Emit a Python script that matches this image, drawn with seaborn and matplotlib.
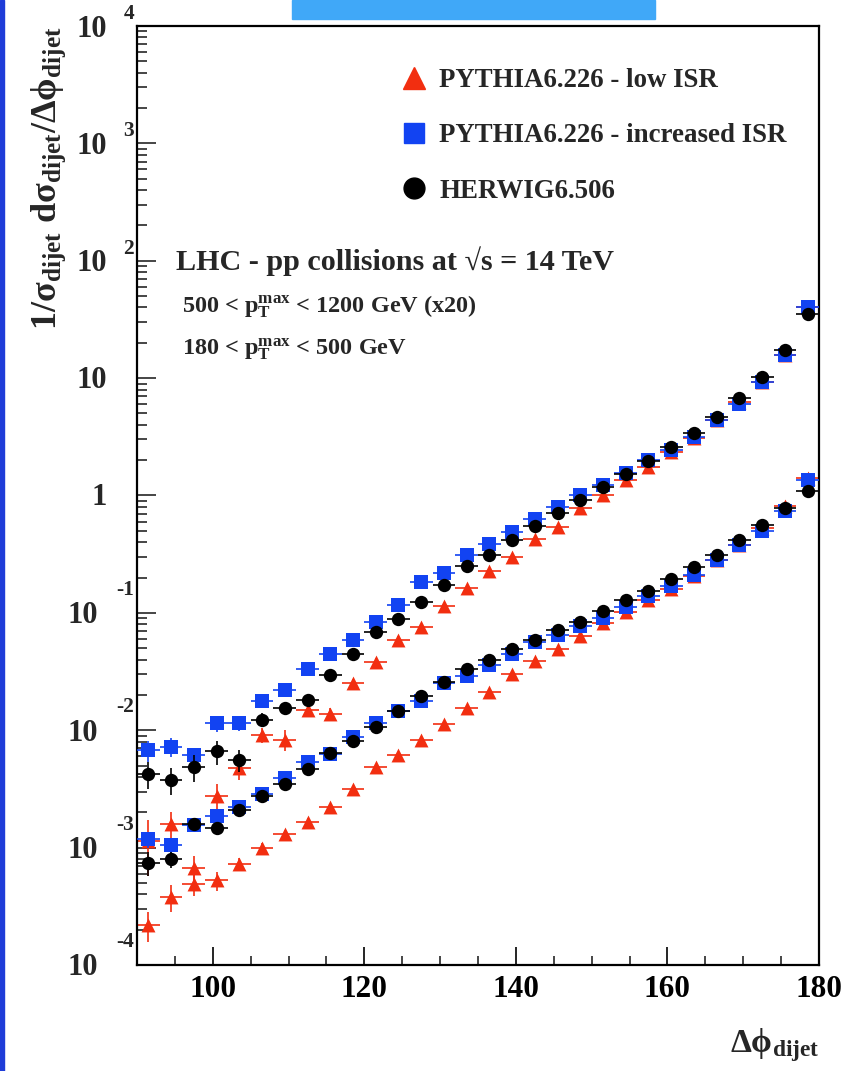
import numpy as np
import pandas as pd
import matplotlib
matplotlib.use("Agg")
import matplotlib.pyplot as plt
from matplotlib.transforms import offset_copy
from matplotlib.lines import Line2D
from matplotlib.patches import Rectangle
from matplotlib.ticker import LogLocator, MultipleLocator, NullFormatter, FixedLocator
import seaborn as sns

# ---------------------------------------------------------------- data
# Delta-phi(dijet) binning in degrees: 30 bins of 3 degrees from 90 to 180
dphi_edges = np.arange(90, 181, 3)
dphi_centers = 0.5 * (dphi_edges[:-1] + dphi_edges[1:])
dphi_halfwidth = 1.5

# log10 of 1/sigma dsigma/dDphi, 500 < pT(max) < 1200 GeV, multiplied by 20
hi_pythia_low_log = [-2.94, -2.80, -3.17, -2.56, -2.32, -2.04, -2.08, -1.83, -1.86, -1.60,
                     -1.42, -1.23, -1.12, -0.94, -0.79, -0.64, -0.52, -0.37, -0.27, -0.11,
                     0.00, 0.13, 0.24, 0.37, 0.49, 0.64, 0.80, 0.97, 1.20, 1.61]
hi_pythia_incr_log = [-2.17, -2.14, -2.21, -1.94, -1.94, -1.75, -1.66, -1.48, -1.35, -1.23,
                      -1.08, -0.93, -0.74, -0.66, -0.51, -0.41, -0.31, -0.20, -0.10, 0.00,
                      0.09, 0.19, 0.30, 0.39, 0.50, 0.64, 0.78, 0.97, 1.20, 1.61]
hi_herwig_log = [-2.37, -2.42, -2.31, -2.18, -2.25, -1.91, -1.81, -1.74, -1.53, -1.35,
                 -1.16, -1.05, -0.91, -0.76, -0.60, -0.51, -0.38, -0.26, -0.15, -0.04,
                 0.07, 0.18, 0.29, 0.41, 0.53, 0.67, 0.83, 1.01, 1.24, 1.55]

# log10 of 1/sigma dsigma/dDphi, 180 < pT(max) < 500 GeV
lo_pythia_low_log = [-3.66, -3.42, -3.31, -3.28, -3.14, -3.00, -2.88, -2.78, -2.65, -2.50,
                     -2.31, -2.21, -2.08, -1.95, -1.81, -1.67, -1.52, -1.41, -1.31, -1.20,
                     -1.09, -0.99, -0.89, -0.80, -0.69, -0.55, -0.42, -0.28, -0.09, 0.15]
lo_pythia_incr_log = [-2.93, -2.98, -2.81, -2.73, -2.65, -2.54, -2.41, -2.27, -2.20, -2.06,
                      -1.94, -1.84, -1.75, -1.60, -1.54, -1.44, -1.35, -1.25, -1.19, -1.11,
                      -1.04, -0.95, -0.86, -0.77, -0.68, -0.55, -0.42, -0.30, -0.13, 0.13]
lo_herwig_log = [-3.13, -3.10, -2.80, -2.83, -2.68, -2.56, -2.46, -2.33, -2.19, -2.09,
                 -1.97, -1.84, -1.71, -1.59, -1.48, -1.40, -1.31, -1.23, -1.15, -1.08,
                 -0.98, -0.89, -0.81, -0.71, -0.61, -0.51, -0.38, -0.25, -0.11, 0.04]

# relative statistical uncertainties
hi_pythia_low_relerr = [0.50, 0.28, 0.26, 0.26, 0.21, 0.15, 0.20, 0.11, 0.11, 0.09,
                        0.08, 0.07, 0.06, 0.05, 0.05, 0.04, 0.04, 0.03, 0.03, 0.03,
                        0.02, 0.02, 0.02, 0.02, 0.02, 0.02, 0.02, 0.02, 0.02, 0.02]
hi_pythia_incr_relerr = [0.20, 0.18, 0.15, 0.16, 0.15, 0.11, 0.10, 0.08, 0.07, 0.06,
                         0.05, 0.05, 0.04, 0.04, 0.03, 0.03, 0.03, 0.02, 0.02, 0.02,
                         0.02, 0.02, 0.02, 0.02, 0.02, 0.02, 0.02, 0.02, 0.02, 0.02]
hi_herwig_relerr = [0.26, 0.26, 0.26, 0.23, 0.21, 0.13, 0.11, 0.10, 0.08, 0.07,
                    0.06, 0.05, 0.05, 0.04, 0.04, 0.03, 0.03, 0.03, 0.02, 0.02,
                    0.02, 0.02, 0.02, 0.02, 0.02, 0.02, 0.02, 0.02, 0.02, 0.02]
lo_pythia_low_relerr = [0.28, 0.26, 0.21, 0.18, 0.13, 0.10, 0.08, 0.07, 0.06, 0.05,
                        0.05, 0.04, 0.04, 0.03, 0.03, 0.03, 0.02, 0.02, 0.02, 0.02,
                        0.02, 0.02, 0.02, 0.02, 0.02, 0.02, 0.02, 0.02, 0.02, 0.02]
lo_pythia_incr_relerr = [0.16, 0.16, 0.07, 0.15, 0.08, 0.07, 0.06, 0.05, 0.05, 0.04,
                         0.04, 0.03, 0.03, 0.03, 0.02, 0.02, 0.02, 0.02, 0.02, 0.02,
                         0.02, 0.02, 0.02, 0.02, 0.02, 0.02, 0.02, 0.02, 0.02, 0.02]
lo_herwig_relerr = [0.23, 0.16, 0.07, 0.07, 0.08, 0.06, 0.05, 0.05, 0.04, 0.04,
                    0.03, 0.03, 0.03, 0.02, 0.02, 0.02, 0.02, 0.02, 0.02, 0.02,
                    0.02, 0.02, 0.02, 0.02, 0.02, 0.02, 0.02, 0.02, 0.02, 0.02]

generator_labels = ["PYTHIA6.226 - low ISR", "PYTHIA6.226 - increased ISR", "HERWIG6.506"]
generator_colors = ["#F22E10", "#1243F2", "#000000"]
generator_markers = ["^", "s", "o"]
generator_sizes = [100, 98, 92]

# ---------------------------------------------------------------- style
sns.set_theme(style="ticks")
plt.rcParams["font.family"] = ["Liberation Serif", "DejaVu Serif"]
plt.rcParams["font.weight"] = "bold"
plt.rcParams["mathtext.fontset"] = "custom"
plt.rcParams["mathtext.rm"] = "Liberation Serif:bold"
plt.rcParams["mathtext.it"] = "Liberation Serif:bold:italic"
plt.rcParams["mathtext.bf"] = "Liberation Serif:bold"
plt.rcParams["mathtext.default"] = "rm"

W, H = 865, 1071
fig = plt.figure(figsize=(W / 100, H / 100), dpi=100)
fig.patch.set_facecolor("white")
ax = fig.add_axes([0.1584, 0.0990, 0.7884, 0.8767])
ax.set_facecolor("white")

# thin frame strip at the left edge and the header box at the top
fig.patches.append(Rectangle((0, 0), 4 / W, 1, transform=fig.transFigure,
                             color="#1E3CD8", zorder=0))
fig.patches.append(Rectangle((292 / W, 1 - 19 / H), 363 / W, 19 / H,
                             transform=fig.transFigure, color="#40A8F8", zorder=0))

series = [
    (hi_pythia_low_log, hi_pythia_low_relerr, lo_pythia_low_log, lo_pythia_low_relerr),
    (hi_pythia_incr_log, hi_pythia_incr_relerr, lo_pythia_incr_log, lo_pythia_incr_relerr),
    (hi_herwig_log, hi_herwig_relerr, lo_herwig_log, lo_herwig_relerr),
]

for k, (hi_log, hi_err, lo_log, lo_err) in enumerate(series):
    color = generator_colors[k]
    for vals_log, relerr in ((hi_log, hi_err), (lo_log, lo_err)):
        df = pd.DataFrame({"dphi": dphi_centers,
                           "value": 10.0 ** np.asarray(vals_log)})
        yerr = df["value"].to_numpy() * np.asarray(relerr)
        ax.errorbar(df["dphi"], df["value"], xerr=dphi_halfwidth, yerr=yerr,
                    fmt="none", ecolor=color, elinewidth=1.2, capsize=0,
                    zorder=2 + 2 * k)
        sns.scatterplot(data=df, x="dphi", y="value", ax=ax, marker=generator_markers[k],
                        color=color, s=generator_sizes[k], linewidth=0,
                        zorder=3 + 2 * k, legend=False)

ax.set_yscale("log")
ax.set_xlim(90, 180)
ax.set_ylim(1e-4, 1e4)
ax.set_xlabel("")
ax.set_ylabel("")

# axes frame and ticks
for side in ["left", "right", "top", "bottom"]:
    ax.spines[side].set_visible(True)
    ax.spines[side].set_linewidth(1.6)
    ax.spines[side].set_color("black")

ax.xaxis.set_major_locator(FixedLocator([100, 120, 140, 160, 180]))
ax.xaxis.set_minor_locator(MultipleLocator(5))
ax.yaxis.set_major_locator(LogLocator(base=10, numticks=20))
ax.yaxis.set_minor_locator(LogLocator(base=10, subs=np.arange(2, 10), numticks=20))
ax.yaxis.set_major_formatter(NullFormatter())
ax.yaxis.set_minor_formatter(NullFormatter())
ax.tick_params(axis="x", which="major", direction="in", length=13, width=1.2,
               labelsize=22.5, pad=7, top=False, colors="black")
ax.tick_params(axis="x", which="minor", direction="in", length=6.5, width=1.2, top=False)
ax.tick_params(axis="y", which="major", direction="in", length=14, width=1.2, right=False)
ax.tick_params(axis="y", which="minor", direction="in", length=7, width=1.2, right=False)
for lab in ax.get_xticklabels():
    lab.set_fontweight("bold")

# decade labels on the log axis: "10" with a raised exponent
ytrans = ax.get_yaxis_transform()
for n in range(-4, 5):
    yv = 10.0 ** n
    if n in (0, 1):
        ax.text(0, yv, "1" if n == 0 else "10",
                transform=offset_copy(ytrans, fig, x=-30, y=-2, units="dots"),
                ha="right", va="center", fontsize=22, fontweight="bold")
    else:
        base_dx = -30 if n > 0 else -39
        exp_dy = 12 if n > 0 else 23
        ax.text(0, yv, "10",
                transform=offset_copy(ytrans, fig, x=base_dx, y=-3, units="dots"),
                ha="right", va="center", fontsize=22, fontweight="bold")
        ax.text(0, yv, str(n),
                transform=offset_copy(ytrans, fig, x=-3, y=exp_dy, units="dots"),
                ha="right", va="center", fontsize=15.5, fontweight="bold")

# axis titles
ax.text(-0.1290, 1.0, r"1/$\sigma_{dijet}$ d$\sigma_{dijet}$/$\Delta\phi_{dijet}$",
        transform=ax.transAxes, rotation=90, ha="center", va="top", fontsize=26,
        fontweight="bold")
ax.text(1.0, -0.085, r"$\Delta\phi_{dijet}$", transform=ax.transAxes,
        ha="right", va="center", fontsize=24, fontweight="bold")

# legend
handles = [Line2D([], [], linestyle="none", marker=m, color=c, markersize=ms)
           for m, c, ms in zip(generator_markers, generator_colors, [16, 14.5, 15])]
ax.legend(handles, generator_labels, loc="upper left", bbox_to_anchor=(0.387, 0.955),
          frameon=False, borderpad=0, borderaxespad=0, handlelength=0.95,
          handletextpad=0.48, labelspacing=1.12, prop={"size": 19.4, "weight": "bold"})

# sample annotations (positions in figure pixels from the top-left corner)
fig.text(176 / W, 1 - 261 / H, "LHC - pp collisions at \u221as = 14 TeV",
         ha="left", va="center", fontsize=21.7, fontweight="bold")
fig.text(182 / W, 1 - 307 / H,
         r"500 < p$_{\mathrm{T}}^{\mathrm{max}}$ < 1200 GeV (x20)",
         ha="left", va="center", fontsize=17.5, fontweight="bold")
fig.text(182 / W, 1 - 349 / H,
         r"180 < p$_{\mathrm{T}}^{\mathrm{max}}$ < 500 GeV",
         ha="left", va="center", fontsize=17.5, fontweight="bold")

fig.savefig("out.png", dpi=100, facecolor="white")
